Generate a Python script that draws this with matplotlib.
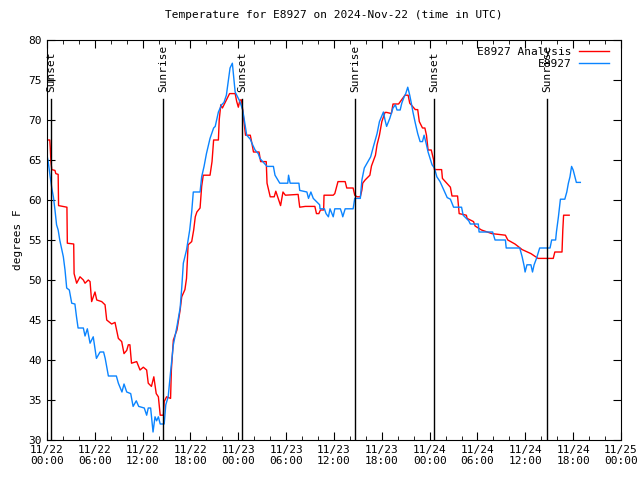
import matplotlib
matplotlib.use('Agg')
import matplotlib.pyplot as plt
import matplotlib.dates as mdates
import pandas as pd

# hours since 2024-11-22 00:00 UTC and temperatures (F)
analysis_hours = [0, 0.35, 0.4, 0.5, 0.6, 1.0, 1.1, 1.4, 1.45, 2.5, 2.55, 3.35, 3.4, 3.72, 4.14, 4.56,
                  4.77, 5.18, 5.4, 5.6, 6.02, 6.24, 6.86, 7.28, 7.49, 8.11, 8.53, 8.95, 9.37, 9.66, 10.0,
                  10.2, 10.4, 10.6, 11.25, 11.67, 12.08, 12.5, 12.7, 13.1, 13.4, 13.7, 13.97, 14.2, 14.6,
                  14.7, 15.0, 15.5, 15.6, 15.85, 16.3, 16.7, 16.9, 17.3, 17.5, 17.7, 18.15, 18.4, 18.6,
                  18.8, 19.2, 19.4, 19.6, 20.45, 20.7, 20.9, 21.5, 21.6, 21.8, 22.0, 22.2, 22.5, 22.9,
                  23.6, 23.8, 24.0, 24.2, 24.4, 24.6, 24.9, 25.5, 25.7, 25.9, 26.6, 26.8, 27.5, 27.6,
                  28.0, 28.5, 28.7, 29.0, 29.3, 29.6, 29.9, 31.5, 31.7, 32.4, 33.6, 33.8, 34.1, 34.3,
                  34.7, 34.75, 35.9, 36.1, 36.5, 37.4, 37.6, 38.4, 38.6, 38.9, 39.3, 39.5, 39.6, 39.9,
                  40.5, 40.7, 41.2, 41.4, 41.7, 42.0, 42.4, 42.6, 43.2, 43.4, 44.1, 44.6, 44.9, 45.3,
                  45.5, 46.2, 46.5, 46.7, 47.1, 47.4, 47.6, 47.8, 48.2, 48.5, 48.6, 49.5, 49.6, 50.6,
                  50.8, 51.5, 51.7, 52.6, 52.7, 53.5, 53.7, 54.5, 55.8, 57.5, 57.8, 58.7, 59.6, 60.7,
                  61.6, 63.5, 63.7, 64.6, 64.7, 64.8, 65.5]
analysis_temps = [67.5, 67.5, 66.7, 64.7, 63.8, 63.7, 63.3, 63.2, 59.3, 59.1, 54.6, 54.5, 50.8, 49.6, 50.4, 50.0,
                  49.6, 50.0, 49.8, 47.3, 48.5, 47.5, 47.3, 46.9, 45.0, 44.5, 44.7, 42.7, 42.3, 40.8, 41.2,
                  41.9, 41.9, 39.6, 39.8, 38.75, 39.1, 38.75, 37.1, 36.7, 37.9, 35.8, 35.4, 33.1, 33.1,
                  34.8, 35.4, 35.2, 38.75, 42.5, 43.75, 46.25, 47.9, 48.8, 50.2, 54.4, 54.8, 56.25, 57.9,
                  58.5, 59.0, 61.7, 63.1, 63.1, 64.8, 67.5, 67.5, 70.0, 71.9, 71.5, 71.9, 72.5, 73.3,
                  73.3, 72.3, 71.6, 72.5, 72.5, 70.8, 68.1, 68.1, 67.1, 66.0, 66.0, 64.8, 64.8, 62.1,
                  60.4, 60.4, 61.1, 60.2, 59.3, 61.0, 60.6, 60.7, 59.1, 59.2, 59.2, 58.3, 58.3, 58.75,
                  58.75, 60.6, 60.6, 60.8, 62.3, 62.3, 61.5, 61.5, 60.6, 60.4, 60.4, 61.25, 62.1, 62.5,
                  63.1, 64.25, 65.6, 66.9, 68.1, 69.8, 70.95, 70.95, 70.8, 72.0, 72.0, 72.7, 73.1, 73.1,
                  72.1, 71.3, 71.3, 69.8, 69.0, 69.0, 68.1, 66.25, 66.25, 65.0, 63.8, 63.8, 62.7, 61.6,
                  60.5, 60.5, 58.3, 58.1, 57.7, 57.3, 56.75, 56.25, 55.8, 55.6, 55.0, 54.5, 53.8, 53.3,
                  52.7, 52.7, 53.5, 53.5, 56.25, 58.1, 58.1]

station_hours = [0, 0.15, 0.4, 0.6, 0.8, 1.0, 1.2, 1.4, 1.6, 2.05, 2.26, 2.47, 2.8, 3.1, 3.5, 3.7, 3.9,
                 4.56, 4.77, 5.06, 5.4, 5.8, 6.2, 6.65, 7.1, 7.3, 7.7, 8.7, 8.95, 9.4, 9.66, 10.0, 10.5,
                 10.8, 11.2, 11.5, 12.2, 12.5, 12.7, 13.0, 13.3, 13.55, 13.75, 13.97, 14.2, 14.7, 14.9,
                 15.2, 15.5, 15.85, 16.3, 16.7, 16.9, 17.1, 17.5, 17.9, 18.15, 18.35, 19.2, 19.4, 19.7,
                 20.0, 20.45, 20.9, 21.1, 21.5, 21.9, 22.2, 22.5, 22.7, 22.96, 23.25, 23.4, 23.6, 23.9,
                 24.2, 24.55, 25.05, 25.5, 25.7, 26.1, 26.5, 26.7, 27.6, 28.4, 28.6, 29.2, 30.2, 30.3,
                 30.5, 31.6, 31.7, 32.6, 32.8, 33.1, 33.4, 33.6, 34.2, 34.25, 34.8, 35.0, 35.3, 35.5,
                 35.9, 36.1, 36.8, 37.0, 37.1, 37.4, 38.4, 38.6, 39.3, 39.5, 39.8, 40.6, 40.95, 41.4,
                 41.7, 42.2, 42.4, 42.6, 43.0, 43.4, 43.7, 43.9, 44.3, 44.5, 44.8, 45.0, 45.25, 45.5,
                 45.7, 45.9, 46.2, 46.5, 46.8, 47.1, 47.3, 47.6, 47.8, 48.3, 48.6, 48.9, 49.3, 49.7,
                 50.2, 50.6, 51.0, 52.0, 52.2, 52.9, 53.1, 54.1, 54.2, 55.9, 56.2, 57.5, 57.6, 59.3,
                 59.6, 59.85, 59.97, 60.2, 60.7, 60.9, 61.1, 61.4, 61.8, 63.1, 63.3, 63.8, 63.9, 64.15,
                 64.4, 64.95, 65.2, 65.4, 65.6, 65.8, 66.0, 66.2, 66.4, 66.9]
station_temps = [65.6, 64.8, 62.9, 61.5, 60.4, 58.75, 56.9, 56.25, 55.0, 52.9, 51.25, 49.0, 48.75, 47.1, 47.0,
                 45.4, 44.0, 44.0, 43.0, 43.9, 42.1, 42.9, 40.2, 41.0, 41.0, 40.2, 38.0, 38.0, 37.1, 36.0,
                 37.0, 36.0, 35.8, 34.2, 34.9, 34.2, 34.0, 33.1, 34.0, 34.0, 31.0, 32.9, 32.4, 32.9, 32.0,
                 32.0, 34.4, 35.4, 38.5, 41.9, 44.2, 46.5, 49.0, 52.1, 53.75, 56.25, 58.5, 61.0, 61.0,
                 62.9, 64.2, 65.8, 67.7, 69.0, 69.2, 71.0, 71.9, 72.2, 73.1, 74.6, 76.5, 77.1, 75.6, 73.5,
                 72.9, 72.3, 71.25, 68.1, 67.6, 67.1, 66.25, 65.8, 65.2, 64.2, 64.2, 63.1, 62.1, 62.1,
                 63.1, 62.1, 62.1, 61.2, 61.0, 60.2, 61.0, 60.2, 60.0, 59.4, 58.9, 58.9, 58.3, 57.9, 58.9,
                 57.9, 58.9, 58.9, 58.3, 57.9, 58.9, 58.9, 60.2, 60.2, 62.5, 64.0, 65.4, 66.7, 68.3, 69.8,
                 71.0, 70.0, 69.2, 70.2, 71.5, 71.9, 71.25, 71.25, 72.1, 72.9, 73.3, 74.1, 73.1, 72.1,
                 71.0, 69.6, 68.3, 67.3, 67.3, 68.1, 66.9, 66.0, 64.4, 64.0, 62.9, 62.3, 61.4, 60.3,
                 60.1, 59.1, 59.1, 58.1, 57.4, 57.0, 57.0, 56.0, 56.0, 55.0, 55.0, 54.0, 54.0, 52.9,
                 51.75, 51.0, 51.9, 51.9, 51.0, 51.9, 52.7, 54.0, 54.0, 55.0, 55.0, 56.0, 57.9, 60.1,
                 60.1, 61.0, 62.1, 62.9, 64.2, 63.75, 63.0, 62.2, 62.2]

sun_hours = [0.56, 14.6, 24.5, 38.65, 48.6, 62.7]
sun_labels = ['Sunset', 'Sunrise', 'Sunset', 'Sunrise', 'Sunset', 'Sunrise']

start = pd.Timestamp('2024-11-22 00:00')
def to_time(h):
    return start + pd.to_timedelta(h, unit='h')

plt.rcParams['font.family'] = 'DejaVu Sans Mono'

fig = plt.figure(figsize=(6.4, 4.8), dpi=100)
ax = fig.add_axes([47 / 640, 40 / 480, 574 / 640, 400 / 480])

ax.plot(to_time(analysis_hours), analysis_temps, color='#ff0000', lw=1.0, label='E8927 Analysis')
ax.plot(to_time(station_hours), station_temps, color='#0a84ff', lw=1.0, label='E8927')

for h, lab in zip(sun_hours, sun_labels):
    t = to_time(h)
    ax.plot([t, t], [30, 72.6], color='black', lw=1.0)
    ax.text(t, 73.5, lab, rotation=90, ha='center', va='bottom', fontsize=8)

ax.set_xlim(start, start + pd.Timedelta(hours=72))
ax.set_ylim(30, 80)
ax.set_yticks(range(30, 81, 5))
ax.xaxis.set_major_locator(mdates.HourLocator(byhour=[0, 6, 12, 18]))
ax.xaxis.set_minor_locator(mdates.HourLocator(byhour=range(0, 24, 2)))
ax.xaxis.set_major_formatter(mdates.DateFormatter('%m/%d\n%H:%M'))
ax.tick_params(which='both', direction='in', top=True, right=True, labelsize=8)
ax.tick_params(which='major', length=6)
ax.tick_params(which='minor', length=3)

ax.set_title('Temperature for E8927 on 2024-Nov-22 (time in UTC)', fontsize=8, pad=16)
ax.set_ylabel('degrees F', fontsize=8)

leg = ax.legend(loc='upper right', bbox_to_anchor=(0.99, 1.0), frameon=False, fontsize=8,
                markerfirst=False, handlelength=2.7, handletextpad=0.6, borderaxespad=0.2,
                labelspacing=0.2)
for t in leg.get_texts():
    t.set_ha('right')

fig.savefig('out.png', dpi=100)
